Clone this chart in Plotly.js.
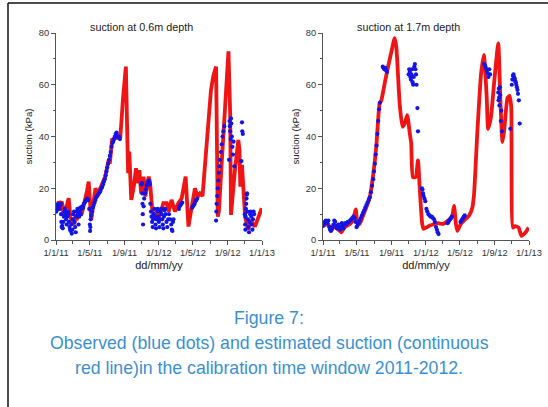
<!DOCTYPE html>
<html>
<head>
<meta charset="utf-8">
<script src="https://cdn.plot.ly/plotly-3.0.1.min.js"></script>
<style>html,body{margin:0;padding:0;background:#fff;}#chart{width:548px;height:407px;}</style>
</head>
<body>
<div id="chart"></div>
<script>
// ---- tick labels ----
const tickDates = ['2011-01-01','2011-05-01','2011-09-01','2012-01-01','2012-05-01','2012-09-01','2013-01-01'];
const tickLabels = ['1/1/11','1/5/11','1/9/11','1/1/12','1/5/12','1/9/12','1/1/13'];

// ---- 0.6 m depth: estimated (red line) ----
const est06Dates = ['2011-01-01','2011-01-06','2011-01-10','2011-01-16','2011-01-22','2011-01-28','2011-02-03','2011-02-10','2011-02-15','2011-02-21','2011-02-27','2011-03-05','2011-03-11','2011-03-17','2011-03-24','2011-03-30','2011-04-03','2011-04-09','2011-04-15','2011-04-21','2011-04-27','2011-05-03','2011-05-06','2011-05-11','2011-05-15','2011-05-21','2011-05-27','2011-06-01','2011-06-07','2011-06-13','2011-06-19','2011-06-25','2011-07-01','2011-07-07','2011-07-11','2011-07-15','2011-07-19','2011-07-25','2011-07-31','2011-08-07','2011-08-17','2011-08-27','2011-09-06','2011-09-11','2011-09-14','2011-09-18','2011-09-22','2011-09-25','2011-10-04','2011-10-12','2011-10-19','2011-10-24','2011-10-30','2011-11-08','2011-11-14','2011-11-20','2011-11-26','2011-12-01','2011-12-08','2011-12-14','2011-12-20','2011-12-26','2011-12-31','2012-01-05','2012-01-11','2012-01-17','2012-01-29','2012-02-05','2012-02-15','2012-02-27','2012-03-10','2012-03-22','2012-04-05','2012-04-15','2012-04-28','2012-05-08','2012-05-18','2012-05-26','2012-06-04','2012-06-14','2012-06-24','2012-07-04','2012-07-12','2012-07-22','2012-07-28','2012-08-01','2012-08-11','2012-08-23','2012-09-04','2012-09-10','2012-09-13','2012-09-27','2012-10-09','2012-10-13','2012-10-16','2012-10-22','2012-10-27','2012-11-02','2012-11-13','2012-11-21','2012-12-07','2012-12-19','2012-12-31'];
const est06Values = [10.5,13,14.8,14,14.8,9.7,11.5,14,16.2,9,7,5.8,9,8.5,11,9.5,10.4,13,15.5,19,22.6,14.3,7.7,12,15.5,20,18.2,18.5,20,21.3,22.5,24.5,28,31,29.5,35,38.7,39,39.3,40.5,39.3,55,67,40,25.8,34.2,25.8,15.5,20.6,27.7,21.9,27,18,24.5,16.8,20,24.5,22,12.3,9,10.3,8,7.7,11,12,14.2,14.2,11,15.5,11,14.2,16.1,24.5,5.2,13.5,20,16.8,18,17,30,45,58,63.2,67,9,11,29.7,49,72.9,49,9.7,27,38.7,34.8,20.6,29,20,9,3.9,7.7,5.2,9,12.3];

// ---- 0.6 m depth: observed (blue dots) ----
const obs06Dates = ['2011-01-02','2011-01-04','2011-01-06','2011-01-08','2011-01-10','2011-01-12','2011-01-14','2011-01-16','2011-01-18','2011-01-19','2011-01-20','2011-01-21','2011-01-23','2011-01-25','2011-01-27','2011-01-29','2011-01-31','2011-02-02','2011-02-04','2011-02-06','2011-02-08','2011-02-10','2011-02-12','2011-02-14','2011-02-16','2011-02-18','2011-02-20','2011-02-22','2011-02-24','2011-02-26','2011-02-28','2011-03-02','2011-03-04','2011-03-06','2011-03-08','2011-03-10','2011-03-12','2011-03-14','2011-03-16','2011-03-18','2011-03-20','2011-03-22','2011-03-24','2011-03-26','2011-03-28','2011-03-30','2011-04-01','2011-04-04','2011-04-07','2011-04-10','2011-04-13','2011-04-16','2011-04-19','2011-04-22','2011-04-25','2011-04-29','2011-05-01','2011-05-02','2011-05-03','2011-05-04','2011-05-06','2011-05-09','2011-05-12','2011-05-15','2011-05-18','2011-05-21','2011-05-24','2011-05-27','2011-05-30','2011-06-02','2011-06-05','2011-06-08','2011-06-11','2011-06-14','2011-06-17','2011-06-20','2011-06-23','2011-06-26','2011-06-29','2011-07-02','2011-07-05','2011-07-08','2011-07-11','2011-07-14','2011-07-17','2011-07-20','2011-07-23','2011-07-26','2011-07-29','2011-08-01','2011-08-04','2011-08-07','2011-08-10','2011-08-13','2011-08-16','2011-10-31','2011-11-02','2011-11-03','2011-11-04','2011-11-05','2011-11-06','2011-11-08','2011-11-10','2011-11-13','2011-11-16','2011-11-19','2011-11-22','2011-11-25','2011-11-28','2011-11-30','2011-12-02','2011-12-04','2011-12-06','2011-12-08','2011-12-10','2011-12-12','2011-12-14','2011-12-16','2011-12-18','2011-12-20','2011-12-22','2011-12-24','2011-12-26','2011-12-28','2011-12-30','2012-01-01','2012-01-03','2012-01-05','2012-01-07','2012-01-09','2012-01-11','2012-01-13','2012-01-15','2012-01-17','2012-01-19','2012-01-21','2012-01-23','2012-01-25','2012-01-28','2012-01-31','2012-02-03','2012-02-06','2012-02-10','2012-02-14','2012-02-16','2012-02-18','2012-02-20','2012-02-22','2012-03-12','2012-03-15','2012-03-18','2012-03-21','2012-03-24','2012-04-28','2012-05-01','2012-05-04','2012-05-07','2012-05-10','2012-05-13','2012-05-16','2012-07-22','2012-07-23','2012-07-24','2012-07-26','2012-07-28','2012-07-30','2012-08-01','2012-08-03','2012-08-05','2012-08-08','2012-08-11','2012-08-14','2012-08-17','2012-08-20','2012-09-06','2012-09-08','2012-09-09','2012-09-10','2012-09-12','2012-09-13','2012-09-14','2012-09-16','2012-09-18','2012-09-20','2012-09-22','2012-09-25','2012-10-20','2012-10-22','2012-10-23','2012-10-25','2012-11-01','2012-11-02','2012-11-03','2012-11-04','2012-11-05','2012-11-06','2012-11-07','2012-11-08','2012-11-09','2012-11-10','2012-11-12','2012-11-14','2012-11-16','2012-11-18','2012-11-20','2012-11-22','2012-11-24','2012-11-26','2012-11-28','2012-11-30','2012-12-02','2012-12-04'];
const obs06Values = [11,12.5,13.5,12,14,13,12,13.5,14,10,7,5,5.5,4.5,7,9,11,12,10,8,6,9,11,10,7,5,4,3.5,6,2.5,4,8,10,11,7,5,3,9,11,12,10,6,9,11,12.5,10,12,13,12.5,14,14.5,15,15.5,16,15.5,12,6,3.5,5,8,9.5,11,12.5,13.5,14.5,15.5,16.5,17,17.5,18,18.5,19,20,20.5,21.5,22.5,23.5,25,26.5,28,29.5,31,32.5,34,36,37.5,38,39,40,41,41.5,40,39.5,40,39,21.5,22,18,14,10,6,13,16,18,19.5,21,22,23,22.5,21.5,14,11,9,7,5,8,10,12,9,6,4.5,8,11,12,9,7,5,8,11,12,10,8,6,4.5,9,11.5,12,10,7,5,8,10,8,6,4,3.5,7,8,12,13,13.5,14,14.5,12.5,13,13.5,14,15,15.5,16,7.5,11,14,17,20,23,26,28.5,31,34,37,40,42,44,31,46,44,42,39,47,45,40,36,33,38,28.5,30.5,45.5,42,41,10,6,4,9,12,14,16,17.5,18,11,8,5,3,7,10,11,9,6,4,8,11,10];

// ---- 1.7 m depth: estimated (red line) ----
const est17Dates = ['2011-01-01','2011-01-19','2011-01-31','2011-02-12','2011-03-01','2011-03-07','2011-03-19','2011-04-06','2011-04-17','2011-04-27','2011-05-03','2011-05-11','2011-05-23','2011-06-04','2011-06-16','2011-06-27','2011-07-09','2011-07-21','2011-07-27','2011-08-08','2011-08-20','2011-09-01','2011-09-12','2011-09-18','2011-09-30','2011-10-10','2011-10-18','2011-10-27','2011-11-05','2011-11-10','2011-11-16','2011-11-26','2011-12-04','2011-12-10','2011-12-19','2011-12-24','2012-01-15','2012-01-26','2012-02-13','2012-03-02','2012-03-20','2012-04-03','2012-04-10','2012-04-17','2012-04-22','2012-05-04','2012-05-22','2012-06-02','2012-06-14','2012-06-20','2012-07-02','2012-07-15','2012-07-25','2012-08-04','2012-08-09','2012-08-19','2012-08-31','2012-09-14','2012-09-21','2012-09-29','2012-10-05','2012-10-17','2012-10-24','2012-10-30','2012-11-05','2012-11-13','2012-11-25','2012-12-05','2012-12-19','2012-12-31'];
const est17Values = [5.6,6,4.3,5,3.6,3,5,6.2,7.5,11.8,6.9,6.2,9.4,12.7,16.6,24.3,36,52.8,54,60.6,67,72.9,78,74.8,52.8,43.8,45,48.3,41.2,37.3,24.3,24.3,30.8,20.5,6.2,4.3,5.6,6,6.5,6.2,7.5,9,13.2,6,3.5,6.2,8.2,9.4,12.6,17.7,42.3,64.3,71.5,55,43,47.5,61.7,76,55,37.8,42.3,55,55.7,51.4,4.8,5.4,4.8,1.6,2.8,4.8];

// ---- 1.7 m depth: observed (blue dots) ----
const obs17Dates = ['2011-01-02','2011-01-05','2011-01-08','2011-01-11','2011-01-14','2011-01-17','2011-01-20','2011-01-23','2011-01-26','2011-01-29','2011-02-01','2011-02-04','2011-02-07','2011-02-10','2011-02-13','2011-02-16','2011-02-19','2011-02-22','2011-02-25','2011-02-28','2011-03-03','2011-03-06','2011-03-09','2011-03-12','2011-03-15','2011-03-18','2011-03-21','2011-03-24','2011-03-27','2011-03-30','2011-04-03','2011-04-07','2011-04-11','2011-04-15','2011-04-19','2011-04-23','2011-04-27','2011-04-30','2011-05-03','2011-05-07','2011-05-11','2011-05-15','2011-05-19','2011-05-23','2011-05-27','2011-05-31','2011-06-04','2011-06-08','2011-06-12','2011-06-16','2011-06-20','2011-06-24','2011-06-28','2011-07-01','2011-07-04','2011-07-07','2011-07-10','2011-07-13','2011-07-16','2011-07-19','2011-07-22','2011-08-01','2011-08-04','2011-08-07','2011-08-10','2011-08-13','2011-08-16','2011-11-01','2011-11-03','2011-11-05','2011-11-07','2011-11-09','2011-11-11','2011-11-13','2011-11-15','2011-11-17','2011-11-19','2011-11-21','2011-11-23','2011-11-25','2011-11-27','2011-11-29','2011-12-02','2011-12-04','2011-12-18','2011-12-20','2011-12-22','2011-12-24','2011-12-27','2011-12-30','2012-01-03','2012-01-06','2012-01-10','2012-01-14','2012-01-18','2012-01-22','2012-01-26','2012-01-30','2012-02-02','2012-02-06','2012-02-09','2012-02-12','2012-02-15','2012-03-18','2012-03-21','2012-03-24','2012-03-27','2012-03-30','2012-04-02','2012-05-03','2012-05-06','2012-05-09','2012-05-12','2012-05-15','2012-05-18','2012-07-26','2012-07-29','2012-08-01','2012-08-04','2012-08-07','2012-08-10','2012-08-13','2012-08-16','2012-09-14','2012-09-15','2012-09-16','2012-09-17','2012-09-18','2012-09-20','2012-09-21','2012-09-23','2012-09-25','2012-09-27','2012-10-27','2012-11-01','2012-11-03','2012-11-05','2012-11-07','2012-11-09','2012-11-11','2012-11-13','2012-11-15','2012-11-17','2012-11-19','2012-11-21','2012-11-23','2012-11-26','2012-11-29'];
const obs17Values = [5.5,6.5,7,7.5,7,6.5,7.5,5,4,3.5,4,5,6,7.5,7,5.5,4.5,5,6,5,4,5,6.5,5.5,4.5,6,6.5,6,6.5,7,7,7.5,8,8.5,9,8.5,7,5,5.5,6.5,7.5,8.5,9.5,10.5,11.5,12.5,13.5,14.5,15.5,16.5,18.5,21,23.5,26.5,29.5,33,36.5,41,46,50.5,53,67,66.5,66,66.5,65.5,65,64,66,65,63,62,64,66,61,60,63,67,68,66,64,60,51,42,20,19.5,18,17,16,15,12,11,10,9.5,9,9,8.5,8,7,5,4,3,2.3,6.5,7,7.5,8,8.5,9,7,7.5,8,8.5,9,9.5,68,67.5,66.5,65.5,64.5,63,66,64,57,54,58.5,55,52,59,56,46,50,42,43,60,62,63.5,64,63,62.5,61.5,61,60,59,58,56.5,54,45];

const RED = '#f01414';
const BLUE = '#1414e6';
const AX = '#555555';
const FONT = '"Liberation Sans", Arial, Helvetica, sans-serif';

const traces = [
  {x: est06Dates, y: est06Values, type: 'scatter', mode: 'lines', xaxis: 'x', yaxis: 'y',
   line: {color: RED, width: 3.8}, hoverinfo: 'skip'},
  {x: obs06Dates, y: obs06Values, type: 'scatter', mode: 'markers', xaxis: 'x', yaxis: 'y',
   marker: {color: BLUE, size: 4.2}},
  {x: est17Dates, y: est17Values, type: 'scatter', mode: 'lines', xaxis: 'x2', yaxis: 'y2',
   line: {color: RED, width: 3.8, shape: 'spline', smoothing: 0.5}, hoverinfo: 'skip'},
  {x: obs17Dates, y: obs17Values, type: 'scatter', mode: 'markers', xaxis: 'x2', yaxis: 'y2',
   marker: {color: BLUE, size: 4.2}}
];

function xax(domain, anchor) {
  return {
    domain: domain, anchor: anchor, type: 'date',
    range: ['2011-01-01', '2013-01-01'],
    tickmode: 'array', tickvals: tickDates, ticktext: tickLabels,
    ticks: 'outside', ticklen: 4, tickcolor: AX, tickwidth: 1,
    showline: true, linecolor: AX, linewidth: 1,
    showgrid: false, zeroline: false,
    tickfont: {family: FONT, size: 9.3, color: '#333'},
    minor: {ticks: 'outside', ticklen: 2.5, tickcolor: AX, dtick: 'M2', tick0: '2011-01-01', showgrid: false},
    title: {text: 'dd/mm/yy', font: {family: FONT, size: 11, color: '#222'}, standoff: 4}
  };
}
function yax(anchor) {
  return {
    domain: [0.4103, 0.9189], anchor: anchor,
    range: [0, 80], tickmode: 'linear', tick0: 0, dtick: 20,
    ticks: 'outside', ticklen: 4, tickcolor: AX, tickwidth: 1,
    showline: true, linecolor: AX, linewidth: 1,
    showgrid: false, zeroline: false,
    tickfont: {family: FONT, size: 9.3, color: '#333'},
    minor: {ticks: 'outside', ticklen: 2.5, tickcolor: AX, dtick: 10, showgrid: false},
    title: {text: 'suction (kPa)', font: {family: FONT, size: 9.6, color: '#222'}, standoff: 4}
  };
}

const CAP = {family: FONT, size: 17.7, color: '#3b8fd3'};

const layout = {
  width: 548, height: 407,
  margin: {l: 0, r: 0, t: 0, b: 0},
  paper_bgcolor: '#ffffff', plot_bgcolor: '#ffffff',
  showlegend: false,
  font: {family: FONT},
  xaxis: xax([56/548, 262/548], 'y'),
  yaxis: yax('x'),
  xaxis2: xax([323/548, 529/548], 'y2'),
  yaxis2: yax('x2'),
  shapes: [
    {type: 'line', xref: 'paper', yref: 'paper', x0: 8/548, x1: 1, y0: 1 - 3/407, y1: 1 - 3/407, line: {color: '#111', width: 1.5}},
    {type: 'line', xref: 'paper', yref: 'paper', x0: 8/548, x1: 8/548, y0: 0, y1: 1 - 3/407, line: {color: '#111', width: 1.5}}
  ],
  annotations: [
    {text: 'suction at 0.6m depth', xref: 'paper', yref: 'paper', x: 141.7/548, y: 1 - 27/407, xanchor: 'center', yanchor: 'middle', showarrow: false, font: {family: FONT, size: 10.8, color: '#222'}},
    {text: 'suction at 1.7m depth', xref: 'paper', yref: 'paper', x: 408/548, y: 1 - 27/407, xanchor: 'center', yanchor: 'middle', showarrow: false, font: {family: FONT, size: 10.8, color: '#222'}},
    {text: 'Figure 7:', xref: 'paper', yref: 'paper', x: 269/548, y: 1 - 318/407, xanchor: 'center', yanchor: 'middle', showarrow: false, font: CAP},
    {text: 'Observed (blue dots) and estimated suction (continuous', xref: 'paper', yref: 'paper', x: 269/548, y: 1 - 343/407, xanchor: 'center', yanchor: 'middle', showarrow: false, font: CAP},
    {text: 'red line)in the calibration time window 2011-2012.', xref: 'paper', yref: 'paper', x: 269/548, y: 1 - 368/407, xanchor: 'center', yanchor: 'middle', showarrow: false, font: CAP}
  ]
};

Plotly.newPlot('chart', traces, layout, {staticPlot: true, displayModeBar: false});
</script>
</body>
</html>
